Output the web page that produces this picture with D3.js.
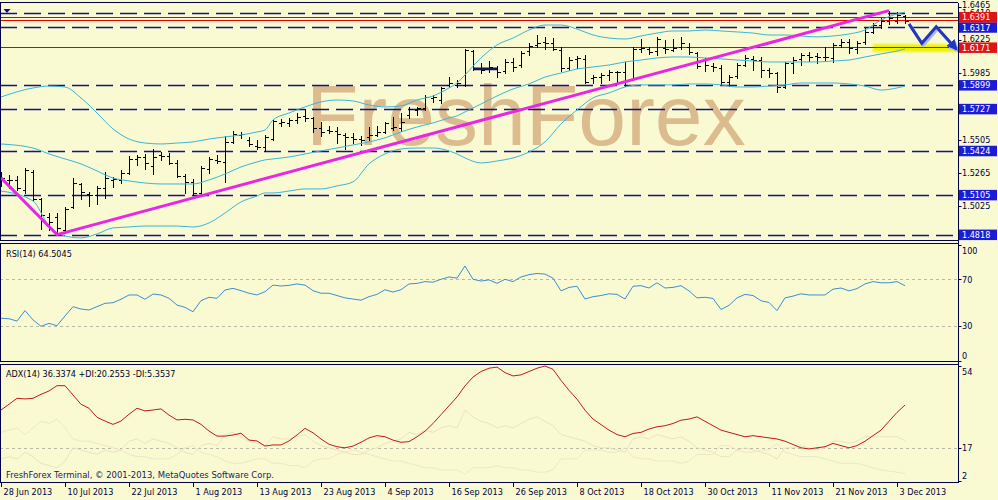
<!DOCTYPE html>
<html><head><meta charset="utf-8">
<script src="https://cdn.jsdelivr.net/npm/d3@7"></script>
<style>html,body{margin:0;padding:0;background:#fafad2;overflow:hidden}svg{display:block}</style>
</head><body>
<svg id="chart" width="998" height="500"></svg>
<script>
// ---------------- DATA ----------------
const dates = ("06-28 07-01 07-02 07-03 07-04 07-05 07-08 07-09 07-10 07-11 07-12 07-15 07-16 07-17 07-18 07-19 07-22 07-23 07-24 07-25 07-26 07-29 07-30 07-31 " +
 "08-01 08-02 08-05 08-06 08-07 08-08 08-09 08-12 08-13 08-14 08-15 08-16 08-19 08-20 08-21 08-22 08-23 08-26 08-27 08-28 08-29 08-30 " +
 "09-02 09-03 09-04 09-05 09-06 09-09 09-10 09-11 09-12 09-13 09-16 09-17 09-18 09-19 09-20 09-23 09-24 09-25 09-26 09-27 09-30 " +
 "10-01 10-02 10-03 10-04 10-07 10-08 10-09 10-10 10-11 10-14 10-15 10-16 10-17 10-18 10-21 10-22 10-23 10-24 10-25 10-28 10-29 10-30 10-31 " +
 "11-01 11-04 11-05 11-06 11-07 11-08 11-11 11-12 11-13 11-14 11-15 11-18 11-19 11-20 11-21 11-22 11-25 11-26 11-27 11-28 11-29 12-02 12-03 12-04").split(" ").map(s => "2013-" + s);

const dateTickLabels = ["28 Jun 2013","10 Jul 2013","22 Jul 2013","1 Aug 2013","13 Aug 2013","23 Aug 2013","4 Sep 2013","16 Sep 2013","26 Sep 2013","8 Oct 2013","18 Oct 2013","30 Oct 2013","11 Nov 2013","21 Nov 2013","3 Dec 2013"];
const dateTickDates = ["2013-06-28","2013-07-10","2013-07-22","2013-08-01","2013-08-13","2013-08-23","2013-09-04","2013-09-16","2013-09-26","2013-10-08","2013-10-18","2013-10-30","2013-11-11","2013-11-21","2013-12-03"];

const openP = [1.5213,1.5213,1.5213,1.5141,1.5271,1.5076,1.4946,1.4946,1.4852,1.5018,
 1.5184,1.5112,1.5105,1.5155,1.5213,1.5213,1.5264,1.5365,1.5379,1.5314,
 1.5394,1.5386,1.5336,1.5242,1.5199,1.5119,1.5292,1.5358,1.5343,1.5488,
 1.5538,1.5502,1.5459,1.5451,1.5509,1.5625,1.5625,1.5647,1.5676,1.5661,
 1.5589,1.5574,1.5567,1.5538,1.5524,1.5509,1.5524,1.5538,1.5560,1.5589,
 1.5589,1.5683,1.5719,1.5733,1.5806,1.5791,1.5900,1.5900,1.5900,1.6145,
 1.6022,1.6022,1.6022,1.6001,1.6066,1.6044,1.6145,1.6189,1.6210,1.6203,
 1.6153,1.6022,1.6088,1.6088,1.5950,1.5957,1.5972,1.5994,1.5994,1.5943,
 1.6160,1.6160,1.6145,1.6167,1.6153,1.6174,1.6174,1.6131,1.6080,1.6037,
 1.6022,1.5921,1.5965,1.6044,1.6088,1.6080,1.6008,1.5986,1.5885,1.6059,
 1.6088,1.6116,1.6109,1.6102,1.6095,1.6189,1.6210,1.6160,1.6210,1.6283,
 1.6333,1.6362,1.6362,1.6398];
const highP = [1.5271,1.5249,1.5242,1.5300,1.5285,1.5083,1.4974,1.4974,1.5018,1.5228,
 1.5191,1.5126,1.5170,1.5271,1.5235,1.5285,1.5386,1.5394,1.5401,1.5437,
 1.5415,1.5408,1.5358,1.5256,1.5220,1.5314,1.5379,1.5394,1.5531,1.5567,
 1.5560,1.5524,1.5502,1.5538,1.5654,1.5654,1.5661,1.5697,1.5726,1.5668,
 1.5632,1.5603,1.5596,1.5553,1.5553,1.5531,1.5596,1.5603,1.5632,1.5668,
 1.5697,1.5741,1.5741,1.5827,1.5827,1.5885,1.5957,1.5936,1.6160,1.6153,
 1.6059,1.6073,1.6037,1.6088,1.6095,1.6145,1.6203,1.6261,1.6247,1.6239,
 1.6174,1.6102,1.6109,1.6116,1.5972,1.5986,1.6008,1.6001,1.6066,1.6174,
 1.6232,1.6174,1.6247,1.6225,1.6232,1.6247,1.6203,1.6138,1.6095,1.6059,
 1.6044,1.5972,1.6059,1.6116,1.6109,1.6102,1.6022,1.5994,1.6066,1.6102,
 1.6131,1.6138,1.6131,1.6174,1.6203,1.6232,1.6232,1.6218,1.6312,1.6348,
 1.6384,1.6434,1.6427,1.6406];
const lowP = [1.5170,1.5155,1.5141,1.5119,1.5068,1.4859,1.4852,1.4818,1.4830,1.5011,
 1.5076,1.5025,1.5040,1.5083,1.5162,1.5191,1.5256,1.5321,1.5292,1.5256,
 1.5358,1.5329,1.5235,1.5119,1.5105,1.5105,1.5264,1.5336,1.5199,1.5480,
 1.5517,1.5459,1.5437,1.5423,1.5502,1.5603,1.5603,1.5625,1.5639,1.5560,
 1.5531,1.5553,1.5480,1.5437,1.5480,1.5466,1.5502,1.5531,1.5553,1.5574,
 1.5567,1.5661,1.5683,1.5719,1.5777,1.5770,1.5885,1.5885,1.5892,1.6008,
 1.5986,1.5994,1.5957,1.5986,1.6001,1.6030,1.6116,1.6174,1.6160,1.6153,
 1.6001,1.6008,1.6022,1.5914,1.5914,1.5914,1.5936,1.5914,1.5892,1.5936,
 1.6138,1.6124,1.6116,1.6131,1.6145,1.6160,1.6124,1.6022,1.6001,1.6001,
 1.5900,1.5892,1.5950,1.6037,1.6008,1.5957,1.5957,1.5849,1.5878,1.5986,
 1.6044,1.6073,1.6059,1.6080,1.6066,1.6174,1.6131,1.6131,1.6196,1.6275,
 1.6312,1.6341,1.6348,1.6348];
const closeP = [1.5228,1.5213,1.5155,1.5285,1.5076,1.4960,1.4909,1.4866,1.5003,1.5191,
 1.5126,1.5105,1.5155,1.5228,1.5220,1.5264,1.5365,1.5379,1.5336,1.5379,
 1.5386,1.5336,1.5242,1.5199,1.5119,1.5300,1.5365,1.5350,1.5488,1.5545,
 1.5545,1.5473,1.5451,1.5524,1.5639,1.5632,1.5647,1.5668,1.5661,1.5589,
 1.5560,1.5567,1.5545,1.5524,1.5509,1.5502,1.5538,1.5560,1.5625,1.5596,
 1.5632,1.5726,1.5733,1.5813,1.5813,1.5878,1.5914,1.5914,1.6153,1.6022,
 1.6008,1.6030,1.5994,1.6066,1.6030,1.6131,1.6182,1.6203,1.6203,1.6160,
 1.6022,1.6080,1.6095,1.5921,1.5957,1.5972,1.5994,1.5994,1.5936,1.6160,
 1.6167,1.6138,1.6232,1.6160,1.6167,1.6203,1.6138,1.6037,1.6044,1.6030,
 1.5921,1.5957,1.6044,1.6095,1.6080,1.6008,1.5986,1.5885,1.6059,1.6080,
 1.6116,1.6102,1.6102,1.6102,1.6189,1.6210,1.6167,1.6203,1.6283,1.6333,
 1.6362,1.6384,1.6406,1.6362];

// Bollinger Bands (read at these bar positions)
const bbIdx = [0,4,6,8,10,12,14,16,18,20,22,24,26,28,30,32,33,34,36,38,40,42,44,46,48,50,52,54,56,57,58,60,62,64,66,68,70,72,74,76,78,80,82,84,86,88,90,92,94,96,98,100,102,104,106,108,110,112,113];
const bbUpper = [1.5813,1.5878,1.5892,1.5885,1.5806,1.5697,1.5582,1.5509,1.5480,1.5473,1.5480,1.5488,1.5509,1.5524,1.5538,1.5560,1.5574,1.5647,1.5697,1.5741,1.5777,1.5791,1.5784,1.5755,1.5741,1.5748,1.5791,1.5820,1.5878,1.5914,1.5972,1.6095,1.6189,1.6239,1.6297,1.6333,1.6333,1.6304,1.6261,1.6239,1.6232,1.6254,1.6275,1.6290,1.6290,1.6297,1.6290,1.6283,1.6275,1.6261,1.6261,1.6254,1.6247,1.6254,1.6268,1.6297,1.6369,1.6413,1.6427];
const bbMiddle = [1.5473,1.5444,1.5401,1.5365,1.5329,1.5278,1.5227,1.5206,1.5191,1.5184,1.5184,1.5184,1.5213,1.5256,1.5307,1.5343,1.5358,1.5365,1.5379,1.5401,1.5423,1.5444,1.5466,1.5488,1.5517,1.5560,1.5596,1.5625,1.5661,1.5676,1.5705,1.5762,1.5820,1.5871,1.5907,1.5957,1.5986,1.6015,1.6030,1.6044,1.6066,1.6080,1.6095,1.6102,1.6102,1.6095,1.6088,1.6080,1.6073,1.6066,1.6066,1.6066,1.6066,1.6073,1.6080,1.6102,1.6124,1.6145,1.6160];
const bbLower = [1.5133,1.5061,1.4880,1.4808,1.4794,1.4823,1.4866,1.4873,1.4880,1.4880,1.4880,1.4873,1.4902,1.4974,1.5054,1.5097,1.5119,1.5119,1.5133,1.5148,1.5148,1.5170,1.5199,1.5329,1.5401,1.5437,1.5444,1.5444,1.5423,1.5401,1.5372,1.5336,1.5350,1.5372,1.5415,1.5488,1.5618,1.5719,1.5806,1.5842,1.5885,1.5900,1.5900,1.5900,1.5907,1.5907,1.5900,1.5885,1.5885,1.5892,1.5900,1.5914,1.5914,1.5914,1.5907,1.5892,1.5863,1.5878,1.5892];

const rsi = [36.4,36,34,43,35,29.5,32,30,38.4,46.4,
 44.4,43.5,46.4,49.3,49.8,52.8,56.5,56.5,52.8,57.3,
 56.5,53.6,47.8,45.8,42,51.6,54.5,53.6,60.8,62.2,
 60.2,58,56.5,59.3,65,64.2,64.8,66,65,60.2,
 58,58,56,54,53,52,55,57,61,59,
 61,66,66.5,68,67.5,70,72,71,81.5,70,
 68.5,69.5,66.5,70,68,72,74,75,74.5,71,
 60,63,64,53,55,56,57.5,57,53,64,
 64.5,62.5,67,62.5,63,64.5,60,54,54.5,53.5,
 44,47.5,54,57,56,51.5,50,43,54,55.5,
 57.5,56.5,56.5,56.5,61.5,62.5,60,62,66,68,
 67,67,68,64.5045];
const adx = [34.1,36.7,39.4,39.1,39.4,41.2,42.7,45.1,45.1,40.9,
 36.7,34.9,30.8,29.1,27.6,29.1,32.2,34.9,33.7,34.1,
 34.6,31.8,29.6,29.9,29.6,27.6,24.6,22.3,22.3,22.8,
 23.6,20.5,20.1,17.8,18.3,18.3,20.1,22.8,25.8,23.8,
 21,18.6,17.5,17,17.8,19.5,21.5,22.5,22,20.5,
 19.5,19.8,22,24.5,28,32,36,40,45,49,
 51.5,53,53.5,51,49.5,50,51.5,53,54,52.5,
 47.5,43,39,34,30,27.5,25,23,22,23.5,
 24,25.5,26.5,27,28,29.5,30,31,29,27,
 25,24,23,22,22.5,22,21.5,21,20,18.5,
 17,16.5,17,17.5,19,18,17,18,20,22.5,
 25,29,33,36.3374];
const plusDI = [12,13,12,15,13,10,9,8,11,17,
 16,15,14,16,15,16,20,21,19,21,
 20,19,17,15,14,18,19,18,23,24,
 22,20,19,18,22,21,21,22,23,20,
 18,17,16,15,14,14,16,17,19,20,
 21,24,23,25,24,26,27,26,34,31,
 29,28,26,27,26,28,30,31,29,27,
 23,22,21,20,18,17,17,16,15,21,
 22,21,23,22,21,22,20,17,16,15,
 13,13,16,17,16,15,14,12,17,17,
 18,17,16,17,20,20,19,20,22,22,
 22,22,22,20.2553];
const minusDI = [24,25,26,23,26,29,28,30,26,21,
 20,20,19,18,17,16,14,13,13,12,
 12,12,14,17,18,15,14,13,11,10,
 10,11,12,12,10,10,9,9,8,11,
 12,12,14,15,16,15,14,13,12,11,
 11,10,9,8,8,7,7,7,5,8,
 8,8,9,8,8,7,7,6,6,7,
 12,12,12,16,16,16,15,15,17,13,
 12,12,11,11,11,10,11,14,14,14,
 18,18,16,15,15,16,16,19,15,14,
 13,13,13,12,11,10,10,10,9,8,
 7,6.5,6,5.3537];

const priceTicks = [1.6465,1.6225,1.5985,1.5745,1.5505,1.5265,1.5025,1.4785];
const priceTickLabels = [1.6465,1.6225,1.5985,1.5505,1.5265,1.5025];
const dashedLevels = [1.6418,1.6317,1.5899,1.5727,1.5424,1.5105,1.4818];
const redLevels = [1.6391,1.6369,1.6171];
const boxLabels = [
  {p:1.6317,c:"blue"},{p:1.5899,c:"blue"},{p:1.5727,c:"blue"},{p:1.5424,c:"blue"},
  {p:1.5105,c:"blue"},{p:1.4818,c:"blue"},{p:1.6391,c:"red"},{p:1.6171,c:"red"}];
const trendPts = [{i:0,p:1.5228},{i:7,p:1.4818},{i:111,p:1.6437}];
const boldSeg = {i0:59,i1:62,p:1.6016};
const arrowPts = [{i:113.5,p:1.6341},{i:115.1,p:1.6201},{i:116.9,p:1.6321},{i:119.4,p:1.6160}];
const yellowZone = {i0:109,i1:119.8,p0:1.6138,p1:1.6196};
const rsiLevels = [70,30], rsiLabels = [100,70,30,0];
const adxLevels = [17], adxLabels = [54,17,2];

// ---------------- DRAWING ----------------
const F = "'DejaVu Sans Condensed','DejaVu Sans',sans-serif";
const NAVY = "#000048", BG = "#fafad2";
const svg = d3.select("#chart");
svg.append("rect").attr("width",998).attr("height",500).attr("fill",BG);

const AX = 958.5;
const xS = d3.scaleLinear().domain([0, dates.length-1]).range([1, 905]);
const yP = d3.scaleLinear().domain([1.4768, 1.64995]).range([241.5, 2]);
const yR = d3.scaleLinear().domain([0, 100]).range([360.5, 244.5]);
const yA = d3.scaleLinear().domain([2, 54]).range([481, 366]);
const di = d => dates.indexOf(d);

const defs = svg.append("defs");
defs.append("clipPath").attr("id","cm").append("rect").attr("x",0).attr("y",2.5).attr("width",958).attr("height",238.5);
defs.append("clipPath").attr("id","cr").append("rect").attr("x",0).attr("y",244).attr("width",958).attr("height",117);
defs.append("clipPath").attr("id","ca").append("rect").attr("x",0).attr("y",365).attr("width",958).attr("height",117);
defs.append("clipPath").attr("id","ctop").append("rect").attr("x",958).attr("y",2).attr("width",40).attr("height",10);
const mk = defs.append("marker").attr("id","ah").attr("viewBox","0 0 10 10").attr("refX",8).attr("refY",5)
  .attr("markerWidth",3.6).attr("markerHeight",3.6).attr("orient","auto");
mk.append("path").attr("d","M0,0L10,5L0,10z").attr("fill","#2236c4");
const mk2 = defs.append("marker").attr("id","ah2").attr("viewBox","0 0 10 10").attr("refX",8).attr("refY",5)
  .attr("markerWidth",3.6).attr("markerHeight",3.6).attr("orient","auto");
mk2.append("path").attr("d","M0,0L10,5L0,10z").attr("fill","#a8b8ec");
const fl = defs.append("filter").attr("id","blur").attr("x","-20%").attr("y","-50%").attr("width","140%").attr("height","200%");
fl.append("feGaussianBlur").attr("stdDeviation",1.2);

// ===== MAIN PANEL =====
const gM = svg.append("g").attr("clip-path","url(#cm)");
gM.append("text").attr("x",306).attr("y",145).text("FreshForex")
  .attr("font-family","'Liberation Sans',Arial,sans-serif").attr("font-size",86).attr("fill","#dcbb8e");

// yellow zone
gM.append("rect").attr("x",xS(yellowZone.i0)).attr("width",xS(yellowZone.i1)-xS(yellowZone.i0))
  .attr("y",yP(yellowZone.p1)).attr("height",yP(yellowZone.p0)-yP(yellowZone.p1))
  .attr("fill","#f0f010").attr("filter","url(#blur)");

// dashed navy levels
gM.selectAll(".dl").data(dashedLevels).enter().append("line")
  .attr("x1",0).attr("x2",958).attr("y1",d=>Math.round(yP(d))+0.5).attr("y2",d=>Math.round(yP(d))+0.5)
  .attr("stroke","#12128c").attr("stroke-width",1.4).attr("stroke-dasharray","17,7");
gM.selectAll(".rl").data(redLevels).enter().append("line")
  .attr("x1",0).attr("x2",958).attr("y1",d=>Math.round(yP(d))+0.5).attr("y2",d=>Math.round(yP(d))+0.5)
  .attr("stroke","#e80000").attr("stroke-width",1.2);

// OHLC bars
const bars = dates.map((d,i)=>({i,o:openP[i],h:highP[i],l:lowP[i],c:closeP[i]}));
const gB = gM.append("g").attr("stroke","#000").attr("stroke-width",1).attr("shape-rendering","crispEdges");
const bx = d => Math.round(xS(d.i))+0.5;
gB.selectAll(".v").data(bars).enter().append("line")
  .attr("x1",bx).attr("x2",bx).attr("y1",d=>Math.round(yP(d.h))).attr("y2",d=>Math.round(yP(d.l))+1);
gB.selectAll(".o").data(bars).enter().append("line")
  .attr("x1",d=>bx(d)-3).attr("x2",bx).attr("y1",d=>Math.round(yP(d.o))+0.5).attr("y2",d=>Math.round(yP(d.o))+0.5);
gB.selectAll(".c").data(bars).enter().append("line")
  .attr("x1",bx).attr("x2",d=>bx(d)+3.5).attr("y1",d=>Math.round(yP(d.c))+0.5).attr("y2",d=>Math.round(yP(d.c))+0.5);

// Bollinger bands
[bbUpper,bbMiddle,bbLower].forEach(arr=>{
  const pts = bbIdx.map((k,j)=>[xS(k), yP(arr[j])]);
  gM.append("path").attr("d", d3.line().curve(d3.curveMonotoneX)(pts))
    .attr("fill","none").attr("stroke","#3ab6da").attr("stroke-width",1);
});

// trend line
gM.append("path").attr("d", d3.line().x(d=>xS(d.i)).y(d=>yP(d.p))(trendPts))
  .attr("fill","none").attr("stroke","#e826e8").attr("stroke-width",3);
// bold segment
gM.append("line").attr("x1",xS(boldSeg.i0)).attr("x2",xS(boldSeg.i1)).attr("y1",yP(boldSeg.p)).attr("y2",yP(boldSeg.p))
  .attr("stroke","#14145a").attr("stroke-width",2.6);
// arrow (shadow + main)
const aLine = d3.line().x(d=>xS(d.i)).y(d=>yP(d.p));
gM.append("path").attr("d",aLine(arrowPts)).attr("transform","translate(1.5,2)").attr("fill","none")
  .attr("stroke","#a8b8ec").attr("stroke-width",3).attr("stroke-linejoin","miter").attr("marker-end","url(#ah2)");
gM.append("path").attr("d",aLine(arrowPts)).attr("fill","none")
  .attr("stroke","#2236c4").attr("stroke-width",3).attr("stroke-linejoin","miter").attr("marker-end","url(#ah)");
// shift marker
gM.append("path").attr("d","M3.5,9L10.5,9L7,13z").attr("fill","#101070");

// ===== RSI PANEL =====
const gR = svg.append("g").attr("clip-path","url(#cr)");
gR.selectAll(".lv").data(rsiLevels).enter().append("line")
  .attr("x1",0).attr("x2",958).attr("y1",d=>Math.round(yR(d))+0.5).attr("y2",d=>Math.round(yR(d))+0.5)
  .attr("stroke","#b9b9a6").attr("stroke-dasharray","3,3");
gR.append("path").attr("d", d3.line().x((d,i)=>xS(i)).y(d=>yR(d))(rsi))
  .attr("fill","none").attr("stroke","#3b8fd2").attr("stroke-width",1);
svg.append("text").attr("x",6).attr("y",256.5).text("RSI(14) 64.5045")
  .attr("font-family",F).attr("font-size",9).attr("fill","#000030");

// ===== ADX PANEL =====
const gA = svg.append("g").attr("clip-path","url(#ca)");
gA.selectAll(".lv").data(adxLevels).enter().append("line")
  .attr("x1",0).attr("x2",958).attr("y1",d=>Math.round(yA(d))+0.5).attr("y2",d=>Math.round(yA(d))+0.5)
  .attr("stroke","#b9b9a6").attr("stroke-dasharray","3,3");
[[plusDI,"#ece2bf"],[minusDI,"#efe6c8"]].forEach(([arr,col])=>{
  gA.append("path").attr("d", d3.line().x((d,i)=>xS(i)).y(d=>yA(d))(arr))
    .attr("fill","none").attr("stroke",col).attr("stroke-width",1);
});
gA.append("path").attr("d", d3.line().x((d,i)=>xS(i)).y(d=>yA(d))(adx))
  .attr("fill","none").attr("stroke","#c01a1a").attr("stroke-width",1);
svg.append("text").attr("x",6).attr("y",376.5).text("ADX(14) 36.3374 +DI:20.2553 -DI:5.3537")
  .attr("font-family",F).attr("font-size",9).attr("fill","#000030");
svg.append("text").attr("x",6).attr("y",478).text("FreshForex Terminal, © 2001-2013, MetaQuotes Software Corp.")
  .attr("font-family",F).attr("font-size",9).attr("fill","#1a1a60")
  .attr("textLength",268).attr("lengthAdjust","spacingAndGlyphs");

// ===== FRAMES =====
const fr = svg.append("g").attr("stroke",NAVY).attr("stroke-width",1).attr("shape-rendering","crispEdges");
[[0,2.5,958,2.5],[0,240.5,958,240.5],[0,243.5,958,243.5],[0,361.5,958,361.5],[0,364.5,958,364.5],[0,482.5,958,482.5]]
  .forEach(a=>fr.append("line").attr("x1",a[0]).attr("y1",a[1]).attr("x2",a[2]).attr("y2",a[3]));
fr.append("line").attr("x1",0.5).attr("x2",0.5).attr("y1",2.5).attr("y2",240.5);
fr.append("line").attr("x1",0.5).attr("x2",0.5).attr("y1",243.5).attr("y2",361.5);
fr.append("line").attr("x1",0.5).attr("x2",0.5).attr("y1",364.5).attr("y2",482.5);
fr.append("line").attr("x1",AX).attr("x2",AX).attr("y1",2.5).attr("y2",482.5);

// ===== PRICE AXIS =====
const gY = svg.append("g");
gY.selectAll(".t").data(priceTicks).enter().append("line")
  .attr("x1",AX).attr("x2",AX+3).attr("y1",d=>Math.round(yP(d))+0.5).attr("y2",d=>Math.round(yP(d))+0.5)
  .attr("stroke",NAVY);
gY.selectAll(".tl").data(priceTickLabels).enter().append("text")
  .attr("x",962).attr("y",d=>d===1.6465 ? 8.2 : (d===1.6225 ? yP(d)+2.0 : yP(d)+3.3)).text(d=>d.toFixed(4))
  .attr("font-family",F).attr("font-size",9).attr("fill","#000040");
// partly hidden label of the top dashed level (only its upper half shows above the red box)
gY.append("text").attr("x",962).attr("y",16.2).text("1.6410").attr("clip-path","url(#ctop)")
  .attr("font-family",F).attr("font-size",9).attr("fill","#000040");
const gBox = gY.selectAll(".bx").data(boxLabels).enter().append("g");
gBox.append("rect").attr("x",959).attr("width",38).attr("y",d=>yP(d.p)-5).attr("height",10.5)
  .attr("fill",d=>d.c==="red"?"#e01414":"#1c1cd6");
gBox.append("text").attr("x",962).attr("y",d=>yP(d.p)+3.4).text(d=>d.p.toFixed(4))
  .attr("font-family",F).attr("font-size",9).attr("fill","#ffffff");

// RSI axis
svg.selectAll(".rt").data(rsiLabels).enter().append("line")
  .attr("x1",AX).attr("x2",AX+3).attr("y1",d=>Math.round(yR(d))+0.5).attr("y2",d=>Math.round(yR(d))+0.5).attr("stroke",NAVY);
svg.selectAll(".rtl").data(rsiLabels).enter().append("text")
  .attr("x",962).attr("y",d=>Math.min(Math.max(yR(d)+3.3, 253.5), 359.2)).text(d=>d)
  .attr("font-family",F).attr("font-size",9).attr("fill","#000040");
// ADX axis
svg.selectAll(".at").data(adxLabels).enter().append("line")
  .attr("x1",AX).attr("x2",AX+3).attr("y1",d=>Math.round(yA(d))+0.5).attr("y2",d=>Math.round(yA(d))+0.5).attr("stroke",NAVY);
svg.selectAll(".atl").data(adxLabels).enter().append("text")
  .attr("x",962).attr("y",d=>Math.min(Math.max(yA(d)+3.3, 375.2), 479.2)).text(d=>d)
  .attr("font-family",F).attr("font-size",9).attr("fill","#000040");

// ===== DATE AXIS =====
const xAxis = d3.axisBottom(xS).tickValues(dateTickDates.map(di)).tickSize(4).tickFormat((d,k)=>dateTickLabels[k]);
const gX = svg.append("g").attr("transform","translate(0,482.5)").call(xAxis);
gX.select(".domain").remove();
gX.selectAll(".tick line").attr("stroke",NAVY).attr("shape-rendering","crispEdges");
gX.selectAll(".tick text").attr("text-anchor","start").attr("dx",2).attr("y",0).attr("dy","12.8")
  .attr("font-family",F).attr("font-size",9).attr("fill","#000040");
</script>
</body></html>
